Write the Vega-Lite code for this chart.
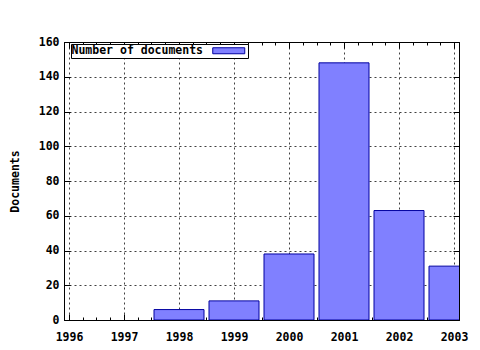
{
  "$schema": "https://vega.github.io/schema/vega-lite/v6.json",
  "width": 395,
  "height": 278,
  "autosize": "none",
  "padding": {"left": 64, "top": 42, "right": 21, "bottom": 30},
  "background": "white",
  "config": {
    "view": {"stroke": "black", "strokeWidth": 1},
    "axis": {
      "labelFont": "DejaVu Sans Mono",
      "labelFontWeight": "bold",
      "labelFontSize": 11.5,
      "labelColor": "black",
      "domainColor": "black",
      "tickColor": "black",
      "titleFont": "DejaVu Sans Mono",
      "titleFontWeight": "bold",
      "titleFontSize": 11.5,
      "titleColor": "black",
      "gridColor": "#404040",
      "gridDash": [2, 3],
      "gridOpacity": 1,
      "gridWidth": 1
    },
    "legend": {
      "labelFont": "DejaVu Sans Mono",
      "labelFontWeight": "bold",
      "labelFontSize": 11.5,
      "labelColor": "black"
    }
  },
  "data": {
    "values": [
      {"year": 1998, "documents": 6},
      {"year": 1999, "documents": 11},
      {"year": 2000, "documents": 38},
      {"year": 2001, "documents": 148},
      {"year": 2002, "documents": 63},
      {"year": 2003, "documents": 31}
    ]
  },
  "layer": [
    {
      "mark": {"type": "bar", "orient": "vertical", "size": 50, "stroke": "#0000a0", "strokeWidth": 1, "clip": true},
      "encoding": {
        "x": {
          "field": "year", "type": "quantitative",
          "scale": {"domain": [1996, 2003], "nice": false, "zero": false},
          "axis": {"orient": "bottom", "values": [1996, 1997, 1998, 1999, 2000, 2001, 2002, 2003], "format": "d", "grid": true, "tickSize": -6, "labelPadding": 17, "title": null}
        },
        "y": {
          "field": "documents", "type": "quantitative",
          "scale": {"domain": [0, 160], "nice": false},
          "axis": {"orient": "left", "values": [0, 20, 40, 60, 80, 100, 120, 140, 160], "grid": true, "tickSize": -6, "labelPadding": 11, "title": "Documents", "titlePadding": 18}
        },
        "fill": {
          "datum": "Number of documents", "type": "nominal",
          "scale": {"range": ["#8080ff"]},
          "legend": {
            "title": null, "orient": "none", "legendX": 7, "legendY": 2,
            "strokeColor": "black", "fillColor": "white", "padding": 1,
            "symbolType": "M-4,-0.75H4V0.75H-4Z", "symbolSize": 64,
            "symbolStrokeColor": "#0000a0", "symbolStrokeWidth": 1,
            "symbolOffset": 151, "labelOffset": -163
          }
        }
      }
    },
    {
      "mark": {"type": "point", "opacity": 0},
      "encoding": {
        "x": {"field": "year", "type": "quantitative",
          "axis": {"orient": "bottom", "values": [1996.25, 1996.5, 1996.75, 1997.25, 1997.5, 1997.75, 1998.25, 1998.5, 1998.75, 1999.25, 1999.5, 1999.75, 2000.25, 2000.5, 2000.75, 2001.25, 2001.5, 2001.75, 2002.25, 2002.5, 2002.75], "labels": false, "grid": false, "domain": false, "tickSize": -3, "title": null}}
      }
    },
    {
      "mark": {"type": "point", "opacity": 0},
      "encoding": {
        "x": {"field": "year", "type": "quantitative",
          "axis": {"orient": "top", "values": [1996, 1997, 1998, 1999, 2000, 2001, 2002, 2003], "labels": false, "grid": false, "tickSize": -6, "title": null}}
      }
    },
    {
      "mark": {"type": "point", "opacity": 0},
      "encoding": {
        "x": {"field": "year", "type": "quantitative",
          "axis": {"orient": "top", "values": [1996.25, 1996.5, 1996.75, 1997.25, 1997.5, 1997.75, 1998.25, 1998.5, 1998.75, 1999.25, 1999.5, 1999.75, 2000.25, 2000.5, 2000.75, 2001.25, 2001.5, 2001.75, 2002.25, 2002.5, 2002.75], "labels": false, "grid": false, "domain": false, "tickSize": -3, "title": null}}
      }
    },
    {
      "mark": {"type": "point", "opacity": 0},
      "encoding": {
        "y": {"field": "documents", "type": "quantitative",
          "axis": {"orient": "right", "values": [0, 20, 40, 60, 80, 100, 120, 140, 160], "labels": false, "grid": false, "tickSize": -6, "title": null}}
      }
    }
  ],
  "resolve": {"axis": {"x": "independent", "y": "independent"}}
}
